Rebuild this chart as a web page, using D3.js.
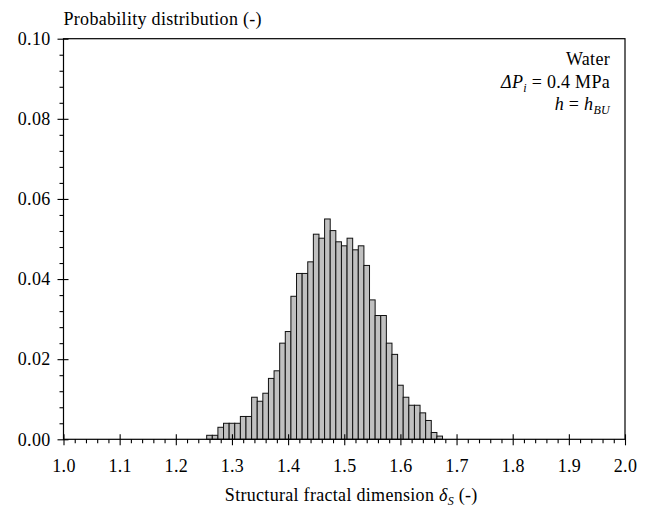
<!DOCTYPE html>
<html>
<head>
<meta charset="utf-8">
<script src="https://cdn.jsdelivr.net/npm/d3@7"></script>
<style>
  body { margin: 0; background: #fff; }
  svg { display: block; }
  text { font-family: "Liberation Serif", "Times New Roman", serif; fill: #000; letter-spacing: 0.3px; }
</style>
</head>
<body>
<svg id="chart" width="651" height="516"></svg>
<script>
// Bin centres (structural fractal dimension) and probabilities
const binCenters = [1.26,1.27,1.28,1.29,1.30,1.31,1.32,1.33,1.34,1.35,1.36,1.37,1.38,1.39,1.40,
  1.41,1.42,1.43,1.44,1.45,1.46,1.47,1.48,1.49,1.50,1.51,1.52,1.53,1.54,1.55,1.56,1.57,1.58,
  1.59,1.60,1.61,1.62,1.63,1.64,1.65,1.66,1.67];
const probabilities = [0.001,0.001,0.003,0.004,0.004,0.004,0.0057,0.0057,0.0105,0.0095,0.0115,
  0.0152,0.0171,0.024,0.0269,0.0357,0.0414,0.0414,0.0443,0.0512,0.0502,0.055,0.0521,0.0493,
  0.0483,0.0502,0.0473,0.0483,0.0434,0.0348,0.0309,0.0309,0.024,0.0212,0.0135,0.0105,0.0085,
  0.0085,0.0066,0.0047,0.0017,0.0008];
const binWidth = 0.01;
const xTicks = [1.0,1.1,1.2,1.3,1.4,1.5,1.6,1.7,1.8,1.9,2.0];
const yTicks = [0.00,0.02,0.04,0.06,0.08,0.10];
const xMinorStep = 0.02;
const yMinorStep = 0.004;

const svg = d3.select("#chart");
const x = d3.scaleLinear().domain([1, 2]).range([63.5, 625]);
const y = d3.scaleLinear().domain([0, 0.1]).range([439.3, 38.7]);
const fs = 18;

// bars
svg.append("g").selectAll("rect").data(binCenters).join("rect")
  .attr("x", d => x(d - binWidth/2))
  .attr("width", d => x(d + binWidth/2) - x(d - binWidth/2))
  .attr("y", (d,i) => y(probabilities[i]))
  .attr("height", (d,i) => y(0) - y(probabilities[i]))
  .attr("fill", "#c0c0c0")
  .attr("stroke", "#111")
  .attr("stroke-width", 1);

// frame
svg.append("rect")
  .attr("x", x(1)).attr("y", y(0.1))
  .attr("width", x(2) - x(1)).attr("height", y(0) - y(0.1))
  .attr("fill", "none").attr("stroke", "#000").attr("stroke-width", 1.2);

// minor ticks
const xMinor = d3.range(1, 2.0001, xMinorStep).filter(v => Math.abs(v*10 - Math.round(v*10)) > 1e-6);
const yMinor = d3.range(0, 0.10001, yMinorStep).filter(v => Math.abs(v*50 - Math.round(v*50)) > 1e-6);

const gxMinor = svg.append("g").attr("transform", `translate(0,${y(0)})`)
  .call(d3.axisBottom(x).tickValues(xMinor).tickSize(4).tickFormat(""));
gxMinor.select(".domain").remove();
const gyMinor = svg.append("g").attr("transform", `translate(${x(1)},0)`)
  .call(d3.axisLeft(y).tickValues(yMinor).tickSize(4).tickFormat(""));
gyMinor.select(".domain").remove();

// major axes
const gx = svg.append("g").attr("transform", `translate(0,${y(0)})`)
  .call(d3.axisBottom(x).tickValues(xTicks).tickSize(6).tickPadding(14).tickFormat(d3.format(".1f")));
gx.select(".domain").remove();
gx.selectAll(".tick line").attr("y1", -5);
gx.selectAll(".tick text").style("font-size", fs + "px").style("font-family", "Liberation Serif");

const gy = svg.append("g").attr("transform", `translate(${x(1)},0)`)
  .call(d3.axisLeft(y).tickValues(yTicks).tickSize(6).tickPadding(7).tickFormat(d3.format(".2f")));
gy.select(".domain").remove();
gy.selectAll(".tick line").attr("x1", 5);
gy.selectAll(".tick text").style("font-size", fs + "px").style("font-family", "Liberation Serif");

svg.selectAll(".tick line").attr("stroke", "#000").attr("stroke-width", 1.1);

// y-axis title
svg.append("text").attr("x", x(1)).attr("y", 25)
  .style("font-size", fs + "px").text("Probability distribution (-)");

// x-axis title
const xt = svg.append("text").attr("x", (x(1) + x(2)) / 2 + 7).attr("y", 501)
  .attr("text-anchor", "middle").style("font-size", fs + "px");
xt.append("tspan").text("Structural fractal dimension ");
xt.append("tspan").style("font-style", "italic").text("δ");
xt.append("tspan").style("font-style", "italic").style("font-size", "12px").attr("dy", 4).text("S");
xt.append("tspan").attr("dy", -4).text(" (-)");

// annotation
const ax = 610;
svg.append("text").attr("x", ax).attr("y", 65).attr("text-anchor", "end")
  .style("font-size", fs + "px").text("Water");
const t2 = svg.append("text").attr("x", ax).attr("y", 88).attr("text-anchor", "end")
  .style("font-size", fs + "px");
t2.append("tspan").style("font-style", "italic").text("ΔP");
t2.append("tspan").style("font-style", "italic").style("font-size", "12px").attr("dy", 4).text("i");
t2.append("tspan").attr("dy", -4).text(" = 0.4 MPa");
const t3 = svg.append("text").attr("x", ax).attr("y", 110).attr("text-anchor", "end")
  .style("font-size", fs + "px");
t3.append("tspan").style("font-style", "italic").text("h");
t3.append("tspan").text(" = ");
t3.append("tspan").style("font-style", "italic").text("h");
t3.append("tspan").style("font-style", "italic").style("font-size", "12px").attr("dy", 4).text("BU");
</script>
</body>
</html>
